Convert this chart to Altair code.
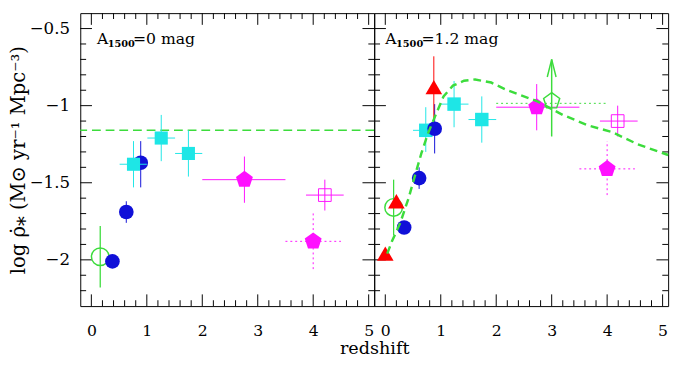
import altair as alt
import pandas as pd

FONT = "DejaVu Serif"
W, H = 301, 300

X_DOMAIN = [-0.2, 5.1]
Y_DOMAIN = [-2.3, -0.4]
X_LABELS = [0, 1, 2, 3, 4, 5]
Y_LABELS = [-2.0, -1.5, -1.0, -0.5]
X_MINOR = [round(0.2 * i, 1) for i in range(1, 25) if i % 5 != 0]
Y_MINOR = [round(-2.2 + 0.1 * i, 1) for i in range(0, 18) if i % 5 != 2]

Y_TITLE = "log ρ̇⁎  (M⊙ yr⁻¹ Mpc⁻³)"
X_TITLE = "redshift"

BLUE = "#1010d8"
CYAN = "#1ee6e6"
MAGENTA = "#ff10ff"
GREEN = "#3cdc3c"
RED = "#ff0000"

# ---------------- left panel (A1500 = 0 mag) ----------------
L_blue_x = [0.38, 0.63, 0.89]
L_blue_y = [-2.01, -1.69, -1.37]
L_blue_ylo = [-2.04, -1.76, -1.53]
L_blue_yhi = [-1.98, -1.62, -1.23]

L_cyan_x = [0.76, 1.26, 1.75]
L_cyan_y = [-1.38, -1.21, -1.31]
L_cyan_xlo = [0.51, 1.01, 1.51]
L_cyan_xhi = [1.00, 1.51, 2.00]
L_cyan_ylo = [-1.53, -1.36, -1.46]
L_cyan_yhi = [-1.23, -1.06, -1.16]

L_gcirc = dict(x=[0.16], y=[-1.98], ylo=[-2.18], yhi=[-1.78])
L_mpent = dict(x=[2.76], y=[-1.48], xlo=[2.0], xhi=[3.5], ylo=[-1.63], yhi=[-1.33])
L_msq = dict(x=[4.21], y=[-1.58], xlo=[3.87], xhi=[4.55], ylo=[-1.68], yhi=[-1.48])
L_mpent_dot = dict(x=[4.0], y=[-1.88], xlo=[3.5], xhi=[4.5], ylo=[-2.06], yhi=[-1.69])
L_hline_y = [-1.16]

# ---------------- right panel (A1500 = 1.2 mag) ----------------
R_red_x = [0.0, 0.2, 0.875]
R_red_y = [-1.96, -1.62, -0.88]
R_red_ylo = [-1.96, -1.62, -1.08]
R_red_yhi = [-1.96, -1.62, -0.68]

R_blue_x = [0.34, 0.61, 0.89]
R_blue_y = [-1.79, -1.47, -1.15]
R_blue_ylo = [-1.82, -1.54, -1.31]
R_blue_yhi = [-1.76, -1.40, -0.99]

R_cyan_x = [0.73, 1.24, 1.74]
R_cyan_y = [-1.16, -0.99, -1.09]
R_cyan_xlo = [0.50, 1.00, 1.50]
R_cyan_xhi = [1.00, 1.50, 2.00]
R_cyan_ylo = [-1.30, -1.14, -1.24]
R_cyan_yhi = [-1.01, -0.84, -0.94]

R_gcirc = dict(x=[0.15], y=[-1.66], ylo=[-1.84], yhi=[-1.48])
R_mpent = dict(x=[2.73], y=[-1.01], xlo=[2.0], xhi=[3.5], ylo=[-1.16], yhi=[-0.86])
R_gpent = dict(x=[3.0], y=[-0.97], ylo=[-1.20], yhi=[-0.70])
R_gdot = dict(x=[2.0], x2=[4.0], y=[-0.985])
R_msq = dict(x=[4.19], y=[-1.10], xlo=[3.87], xhi=[4.55], ylo=[-1.20], yhi=[-1.00])
R_mpent_dot = dict(x=[4.0], y=[-1.41], xlo=[3.5], xhi=[4.5], ylo=[-1.58], yhi=[-1.23])

R_curve_x = [0.035, 0.12, 0.27, 0.42, 0.53, 0.65, 0.77, 0.92, 1.05, 1.22, 1.42, 1.62,
             1.91, 2.2, 2.73, 3.2, 3.67, 4.08, 4.55, 5.1]
R_curve_y = [-1.96, -1.88, -1.76, -1.60, -1.46, -1.31, -1.18, -1.05, -0.94, -0.87, -0.838, -0.83,
             -0.85, -0.90, -0.97, -1.06, -1.13, -1.17, -1.25, -1.32]

ANNOT = {True: dict(x=0.1, y=-0.6, sub="1500", rest="=0  mag"),
         False: dict(x=0.0, y=-0.6, sub="1500", rest="=1.2  mag")}

PENT = "M0,-1L0.951,-0.309L0.588,0.809L-0.588,0.809L-0.951,-0.309Z"
ARROW = "M-0.5,1L0,-1L0.5,1"


def x_axis(left):
    kw = dict(values=X_LABELS, format="~g", ticks=False, tickSize=0, domain=False, grid=False,
              labelFont=FONT, labelFontSize=16, labelColor="black", labelPadding=17,
              labelFlush=False, labelOverlap=False)
    if left:
        kw.update(title=X_TITLE, titleFont=FONT, titleFontSize=18, titleFontWeight="normal",
                  titleColor="black", titleX=W, titleY=53, titleAlign="center",
                  titleBaseline="bottom")
    else:
        kw.update(title="")
    return alt.Axis(**kw)


def y_axis(left):
    if not left:
        return None
    return alt.Axis(values=Y_LABELS, format="~g", ticks=False, tickSize=0, domain=False, grid=False,
                    labelFont=FONT, labelFontSize=17, labelColor="black", labelPadding=11,
                    title=Y_TITLE, titleFont=FONT, titleFontSize=20, titleFontWeight="normal",
                    titleColor="black", titlePadding=1)


def xe(field, left):
    return alt.X(f"{field}:Q", scale=alt.Scale(domain=X_DOMAIN, nice=False, zero=False),
                 axis=x_axis(left))


def ye(field, left):
    return alt.Y(f"{field}:Q", scale=alt.Scale(domain=Y_DOMAIN, nice=False, zero=False),
                 axis=y_axis(left))


def tick_layers(left):
    out = []
    for vals, ln in ((X_LABELS, 12), (X_MINOR, 6)):
        d = pd.DataFrame({"t": vals})
        out.append(alt.Chart(d).mark_rule(color="black", strokeWidth=1).encode(
            x=xe("t", left), y=alt.value(H), y2=alt.value(H - ln)))
        out.append(alt.Chart(d).mark_rule(color="black", strokeWidth=1).encode(
            x=xe("t", left), y=alt.value(0), y2=alt.value(ln)))
    for vals, ln in ((Y_LABELS, 12), (Y_MINOR, 6)):
        d = pd.DataFrame({"t": vals})
        out.append(alt.Chart(d).mark_rule(color="black", strokeWidth=1).encode(
            y=ye("t", left), x=alt.value(0), x2=alt.value(ln)))
        out.append(alt.Chart(d).mark_rule(color="black", strokeWidth=1).encode(
            y=ye("t", left), x=alt.value(W), x2=alt.value(W - ln)))
    return out


def series(left, d, color, shape, size, filled, dash=None, sw=1.0, psw=1.5):
    df = pd.DataFrame(d)
    out = []
    rk = dict(color=color, strokeWidth=sw)
    if dash:
        rk["strokeDash"] = dash
    if "ylo" in df:
        out.append(alt.Chart(df).mark_rule(**rk).encode(
            x=xe("x", left), y=ye("ylo", left), y2=alt.Y2("yhi")))
    if "xlo" in df:
        out.append(alt.Chart(df).mark_rule(**rk).encode(
            y=ye("y", left), x=xe("xlo", left), x2=alt.X2("xhi")))
    pk = dict(shape=shape, size=size, filled=filled, color=color, opacity=1)
    if not filled:
        pk["strokeWidth"] = psw
    else:
        pk["strokeWidth"] = 0
    out.append(alt.Chart(df).mark_point(**pk).encode(x=xe("x", left), y=ye("y", left)))
    return out


def annot(left):
    a = ANNOT[left]
    d = pd.DataFrame({"x": [a["x"]], "y": [a["y"]]})
    base = alt.Chart(d)
    enc = dict(x=xe("x", left), y=ye("y", left))
    return [
        base.mark_text(text="A", font=FONT, fontSize=16, align="left", baseline="alphabetic",
                       color="black").encode(**enc),
        base.mark_text(text=a["sub"], font=FONT, fontSize=10, fontWeight="bold", align="left",
                       baseline="alphabetic", dx=11, dy=3, color="black").encode(**enc),
        base.mark_text(text=a["rest"], font=FONT, fontSize=16, align="left",
                       baseline="alphabetic", dx=37, color="black").encode(**enc),
    ]


def left_panel():
    L = True
    layers = tick_layers(L)
    layers += [alt.Chart(pd.DataFrame({"y": L_hline_y})).mark_rule(
        color=GREEN, strokeWidth=1.5, strokeDash=[9, 5]).encode(y=ye("y", L))]
    layers += series(L, L_gcirc, GREEN, "circle", 324, False, sw=1.3)
    layers += series(L, dict(x=L_blue_x, y=L_blue_y, ylo=L_blue_ylo, yhi=L_blue_yhi),
                     BLUE, "circle", 225, True)
    layers += series(L, dict(x=L_cyan_x, y=L_cyan_y, xlo=L_cyan_xlo, xhi=L_cyan_xhi,
                             ylo=L_cyan_ylo, yhi=L_cyan_yhi), CYAN, "square", 180, True)
    layers += series(L, L_mpent, MAGENTA, PENT, 330, True)
    layers += series(L, L_msq, MAGENTA, "square", 169, False, psw=1)
    layers += series(L, L_mpent_dot, MAGENTA, PENT, 330, True, dash=[2, 3])
    layers += annot(L)
    return alt.layer(*layers).properties(width=W, height=H)


def right_panel():
    L = False
    layers = tick_layers(L)
    layers += series(L, R_gcirc, GREEN, "circle", 324, False, sw=1.3)
    layers += series(L, dict(x=R_cyan_x, y=R_cyan_y, xlo=R_cyan_xlo, xhi=R_cyan_xhi,
                             ylo=R_cyan_ylo, yhi=R_cyan_yhi), CYAN, "square", 190, True)
    layers += series(L, dict(x=R_blue_x, y=R_blue_y, ylo=R_blue_ylo, yhi=R_blue_yhi),
                     BLUE, "circle", 225, True)
    layers += series(L, dict(x=R_red_x, y=R_red_y, ylo=R_red_ylo, yhi=R_red_yhi),
                     RED, "triangle-up", 289, True)
    layers += [alt.Chart(pd.DataFrame(R_gdot)).mark_rule(
        color=GREEN, strokeWidth=1, strokeDash=[2, 3]).encode(
        x=xe("x", L), x2=alt.X2("x2"), y=ye("y", L))]
    layers += series(L, R_mpent, MAGENTA, PENT, 330, True)
    layers += series(L, R_gpent, GREEN, PENT, 300, False, sw=1.5)
    gp = pd.DataFrame({"x": R_gpent["x"], "y": R_gpent["yhi"]})
    layers += [alt.Chart(gp).mark_point(shape=ARROW, size=324, filled=False, color=GREEN,
                                        strokeWidth=1.5, opacity=1, yOffset=9).encode(
        x=xe("x", L), y=ye("y", L))]
    layers += series(L, R_msq, MAGENTA, "square", 169, False, psw=1)
    layers += series(L, R_mpent_dot, MAGENTA, PENT, 330, True, dash=[2, 3])
    layers += [alt.Chart(pd.DataFrame({"x": R_curve_x, "y": R_curve_y})).mark_line(
        color=GREEN, strokeWidth=2.5, strokeDash=[8, 5]).encode(x=xe("x", L), y=ye("y", L))]
    layers += annot(L)
    return alt.layer(*layers).properties(width=W, height=H)


chart = alt.hconcat(left_panel(), right_panel(), spacing=0, bounds="flush").properties(
    padding={"left": 0, "top": 0, "right": 0, "bottom": 0}, background="white"
).configure_view(stroke="black", strokeWidth=1)

chart.save("out.html", embed_options={"renderer": "svg", "actions": False})
